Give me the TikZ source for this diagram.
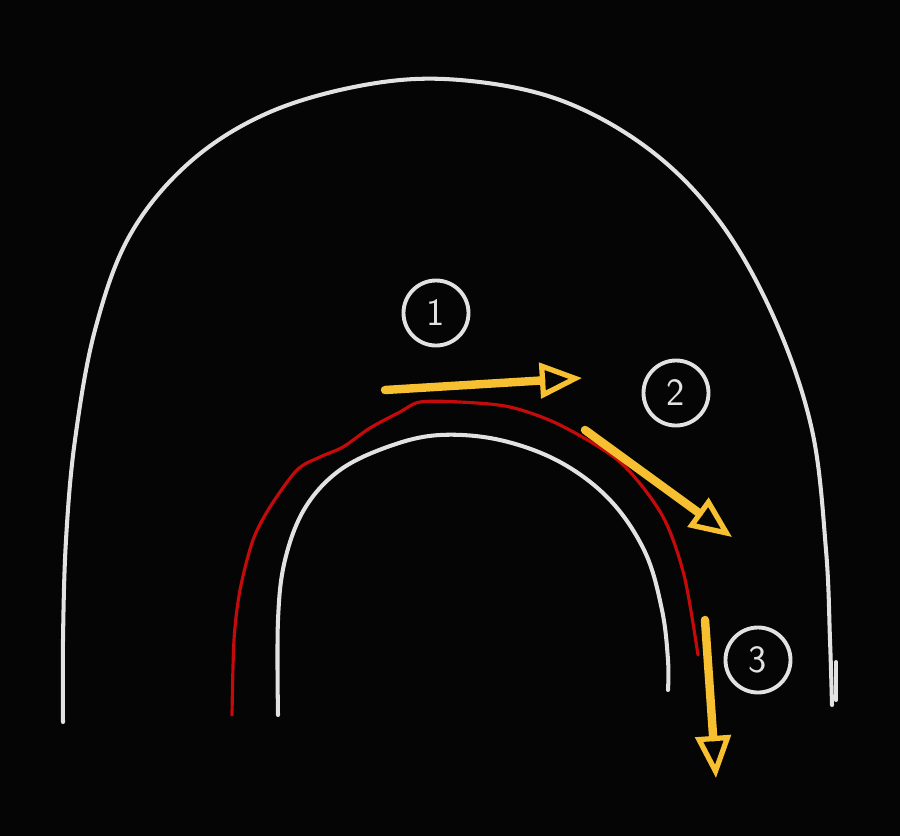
\documentclass[tikz,border=0pt]{standalone}
\usetikzlibrary{arrows.meta}
\definecolor{bg}{HTML}{050505}
\definecolor{chalk}{HTML}{E2E2E2}
\definecolor{redline}{HTML}{C40A0A}
\definecolor{yel}{HTML}{F7C031}
\tikzset{
  wline/.style={draw=chalk, line width=2.3pt, line cap=round, line join=round},
  rline/.style={draw=redline, line width=1.8pt, line cap=round, line join=round},
  yarrow/.style={draw=yel, line width=4.8pt, line cap=round, line join=round,
     -{Triangle[open, length=24pt, width=20pt, line width=3pt]}},
  numcirc/.style={circle, draw=chalk, line width=2.2pt, minimum size=37pt, inner sep=0pt,
     text=chalk, font=\sffamily\fontsize{22}{26}\selectfont}
}
\begin{document}
\begin{tikzpicture}[x=0.02cm, y=-0.02cm]
\fill[bg] (0,0) rectangle (900,836);
\useasboundingbox (0,0) rectangle (900,836);
% outer arch
\draw[wline] plot[smooth, tension=0.6] coordinates {(63,722) (63,640) (66,540) (75,440) (95,330) (130,235) (190,162) (270,112) (370,84) (460,80) (560,100) (650,150) (720,222) (775,320) (812,430) (826,550) (830,640) (832,705)};
\draw[wline] (836,662) -- (836,700);
% inner arch
\draw[wline] plot[smooth, tension=0.6] coordinates {(278,715) (278,620) (285,560) (305,508) (340,470) (390,446) (440,435) (500,440) (560,462) (610,500) (645,552) (662,610) (668,660) (668,690)};
% red path
\draw[rline] plot[smooth, tension=0.5] coordinates {(232,715) (234,640) (240,590) (253,540) (270,507) (297,470) (320,457) (343,447) (370,428) (400,412) (420,402) (460,402) (510,407) (560,425) (620,462) (662,515) (684,575) (698,655)};
% numbered circles
\node[numcirc] (n1) at (436,313) {1};
\node[numcirc] (n2) at (676,393) {2};
\node[numcirc] (n3) at (758,660) {3};
% yellow arrows
\coordinate (a1s) at (385,390);
\coordinate (a1e) at (582,378);
\coordinate (a2s) at (585,430);
\coordinate (a2e) at (732,537);
\coordinate (a3s) at (705,620);
\coordinate (a3e) at (716,778);
\draw[yarrow] (a1s) -- (a1e);
\draw[yarrow] (a2s) -- (a2e);
\draw[yarrow] (a3s) -- (a3e);
\end{tikzpicture}
\end{document}
